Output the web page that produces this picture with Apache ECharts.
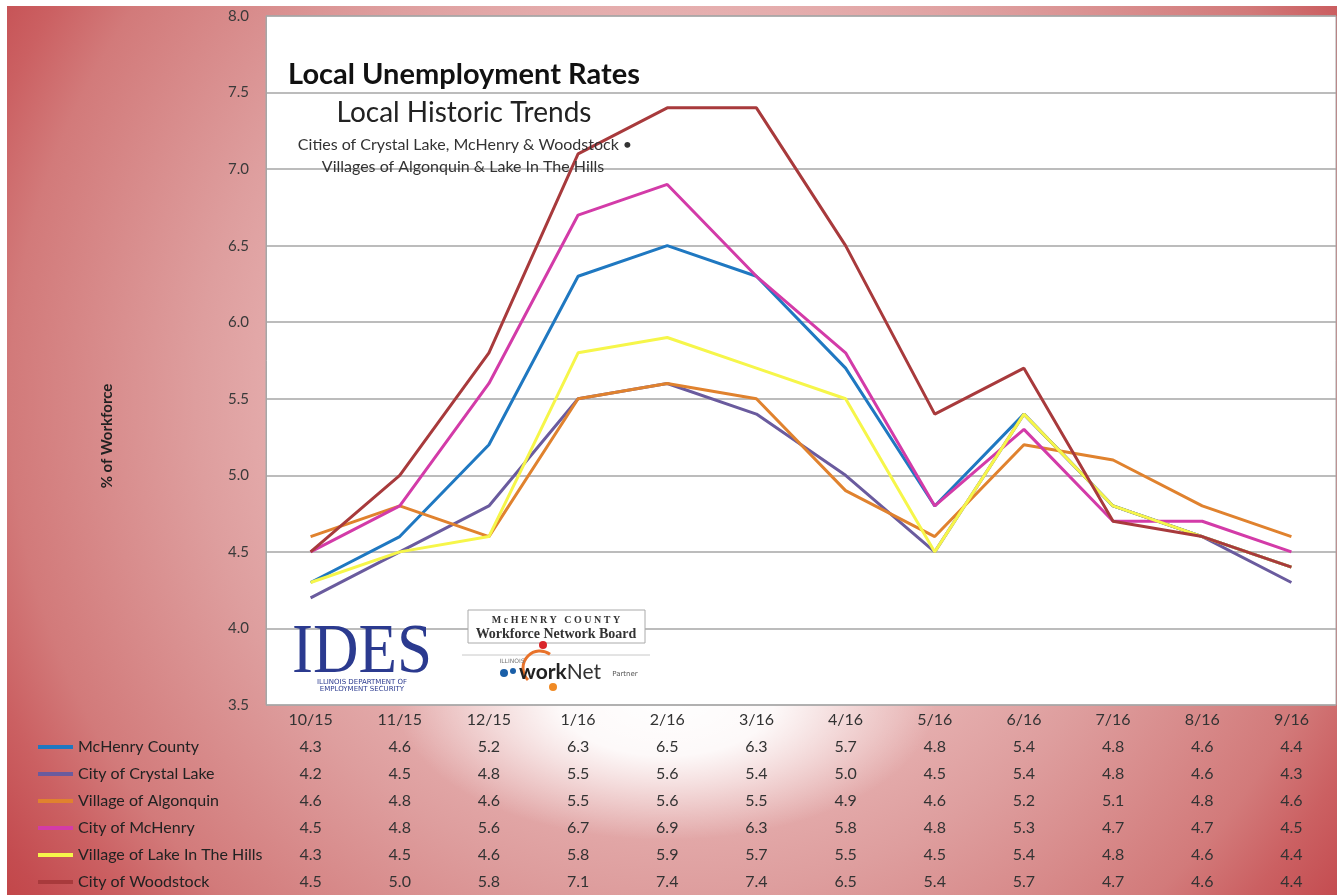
<!DOCTYPE html>
<html><head><meta charset="utf-8">
<script src="https://cdn.jsdelivr.net/npm/echarts@6/dist/echarts.min.js"></script>
<style>
html,body{margin:0;padding:0;background:#fff;overflow:hidden;}
#bg{position:absolute;left:7px;top:6px;width:1330px;height:889px;
background:
 radial-gradient(ellipse 270px 140px at 659px 694px,rgba(255,255,255,1) 0%,rgba(255,255,255,0.92) 40%,rgba(255,255,255,0.45) 70%,rgba(255,255,255,0) 100%),
 radial-gradient(circle 850px at 683px 394px,#f2d0d0 0%,#e6b0b0 45%,#de9e9e 58%,#d27a7a 80%,#cb6062 88%,#c44c50 96%,#c24648 100%);}
#chart{position:absolute;left:0;top:0;width:1338px;height:895px;}
</style></head>
<body><div id="bg"></div><div id="chart"></div>
<script>
const categories = ['10/15','11/15','12/15','1/16','2/16','3/16','4/16','5/16','6/16','7/16','8/16','9/16'];
const mchenryCounty  = [4.3,4.6,5.2,6.3,6.5,6.3,5.7,4.8,5.4,4.8,4.6,4.4];
const crystalLake    = [4.2,4.5,4.8,5.5,5.6,5.4,5.0,4.5,5.4,4.8,4.6,4.3];
const algonquin      = [4.6,4.8,4.6,5.5,5.6,5.5,4.9,4.6,5.2,5.1,4.8,4.6];
const cityMchenry    = [4.5,4.8,5.6,6.7,6.9,6.3,5.8,4.8,5.3,4.7,4.7,4.5];
const lakeInTheHills = [4.3,4.5,4.6,5.8,5.9,5.7,5.5,4.5,5.4,4.8,4.6,4.4];
const woodstock      = [4.5,5.0,5.8,7.1,7.4,7.4,6.5,5.4,5.7,4.7,4.6,4.4];
const seriesNames = ['McHenry County','City of Crystal Lake','Village of Algonquin','City of McHenry','Village of Lake In The Hills','City of Woodstock'];
const seriesValues = [mchenryCounty, crystalLake, algonquin, cityMchenry, lakeInTheHills, woodstock];
const seriesColors = ['#1f78c1','#6a5b9e','#e0822e','#d33ba8','#f6f64a','#a83a3c'];
const yMin = 3.5, yMax = 8.0, yStep = 0.5;

const FONT = 'Lato';
const chart = echarts.init(document.getElementById('chart'));

const xAxes = [{
  type:'category', data:categories, gridIndex:0, position:'bottom', boundaryGap:true,
  axisLine:{show:false}, axisTick:{show:false}, splitLine:{show:false},
  axisLabel:{interval:0, margin:7, fontSize:16, color:'#333', fontFamily:FONT}
}];
seriesValues.forEach((vals,k)=>{
  xAxes.push({
    type:'category', data:categories, gridIndex:0, position:'bottom', offset:27*(k+1), boundaryGap:true,
    axisLine:{show:false}, axisTick:{show:false}, splitLine:{show:false},
    axisLabel:{interval:0, margin:7, fontSize:16, color:'#333', fontFamily:FONT,
      formatter:(v,i)=>vals[i].toFixed(1)}
  });
});

const option = {
  animation:false,
  backgroundColor:'transparent',
  grid:{left:266, right:2, top:16, bottom:190, show:true, backgroundColor:'#fff', borderColor:'#a6a6a6', borderWidth:1},
  xAxis: xAxes,
  yAxis:{type:'value', min:yMin, max:yMax, interval:yStep,
    axisLine:{show:true, lineStyle:{color:'#a6a6a6'}}, axisTick:{show:false},
    splitLine:{lineStyle:{color:'#a6a6a6', width:1.5}},
    axisLabel:{margin:17, fontSize:15, color:'#3a3a3a', fontFamily:FONT, formatter:v=>v.toFixed(1)}},
  legend:{orient:'vertical', left:38, top:738, padding:0, itemGap:9, icon:'rect', itemWidth:35, itemHeight:4,
    height:170, selectedMode:false, data:seriesNames,
    textStyle:{fontSize:16, lineHeight:18, color:'#222', fontFamily:FONT}},
  series: seriesValues.map((vals,k)=>({
    name:seriesNames[k], type:'line', xAxisIndex:0, data:vals, symbol:'none', smooth:false,
    lineStyle:{width:3, color:seriesColors[k]}, itemStyle:{color:seriesColors[k]}
  })),
  graphic:[
    {type:'text', x:464, y:75, z:100, style:{text:'Local Unemployment Rates', font:'bold 29px '+FONT, fill:'#111', align:'center', verticalAlign:'middle'}},
    {type:'text', x:464, y:113, z:100, style:{text:'Local Historic Trends', font:'28px '+FONT, fill:'#222', align:'center', verticalAlign:'middle'}},
    {type:'text', x:465, y:145, z:100, style:{text:'Cities of Crystal Lake, McHenry & Woodstock \u2022', font:'16px '+FONT, fill:'#333', align:'center', verticalAlign:'middle'}},
    {type:'text', x:463, y:167, z:100, style:{text:'Villages of Algonquin & Lake In The Hills', font:'16px '+FONT, fill:'#333', align:'center', verticalAlign:'middle'}},
    {type:'text', x:107, y:436, rotation:Math.PI/2, style:{text:'% of Workforce', font:'bold 15px '+FONT, fill:'#222', align:'center', verticalAlign:'middle'}},
    // IDES logo
    {type:'text', x:362, y:654, scaleX:0.9, z:100, style:{text:'IDES', font:'70px "Liberation Serif"', fill:'#2b3a8f', align:'center', verticalAlign:'middle'}},
    {type:'text', x:362, y:682, z:100, style:{text:'ILLINOIS DEPARTMENT OF', font:'7px "DejaVu Sans"', fill:'#2b3a8f', align:'center', verticalAlign:'middle'}},
    {type:'text', x:362, y:689, z:100, style:{text:'EMPLOYMENT SECURITY', font:'7px "DejaVu Sans"', fill:'#2b3a8f', align:'center', verticalAlign:'middle'}},
    // McHenry County Workforce Network Board logo
    {type:'rect', z:100, shape:{x:468, y:610, width:177, height:33}, style:{fill:'#fff', stroke:'#aaa', lineWidth:1}},
    {type:'text', x:556, y:620, z:101, style:{text:'M c H E N R Y   C O U N T Y', font:'bold 10px "Liberation Serif"', fill:'#333', align:'center', verticalAlign:'middle'}},
    {type:'text', x:556, y:634, z:101, style:{text:'Workforce Network Board', font:'bold 14px "Liberation Serif"', fill:'#333', align:'center', verticalAlign:'middle'}},
    {type:'line', z:100, shape:{x1:462, y1:655, x2:650, y2:655}, style:{stroke:'#c8c8c8', lineWidth:1}},
    {type:'arc', z:100, shape:{cx:540, cy:668, r:17, startAngle:Math.PI*0.75, endAngle:Math.PI*1.7}, style:{stroke:'#e8722a', lineWidth:3, fill:null}},
    {type:'circle', z:101, shape:{cx:543, cy:645, r:4}, style:{fill:'#d9252a'}},
    {type:'circle', z:101, shape:{cx:504, cy:673, r:4}, style:{fill:'#1a5fa8'}},
    {type:'circle', z:101, shape:{cx:513, cy:671, r:3}, style:{fill:'#1a5fa8'}},
    {type:'circle', z:101, shape:{cx:553, cy:687, r:4}, style:{fill:'#f08a24'}},
    {type:'text', x:512, y:661, z:101, style:{text:'ILLINOIS', font:'6px "DejaVu Sans"', fill:'#777', align:'center', verticalAlign:'middle'}},
    {type:'text', x:560, y:672, z:101, style:{text:'{a|work}{b|Net}', rich:{a:{font:'bold 21px '+FONT, fill:'#222'}, b:{font:'21px '+FONT, fill:'#333'}}, align:'center', verticalAlign:'middle'}},
    {type:'text', x:625, y:674, z:101, style:{text:'Partner', font:'7px "DejaVu Sans"', fill:'#555', align:'center', verticalAlign:'middle'}}
  ]
};
chart.setOption(option);
</script>
</body></html>
